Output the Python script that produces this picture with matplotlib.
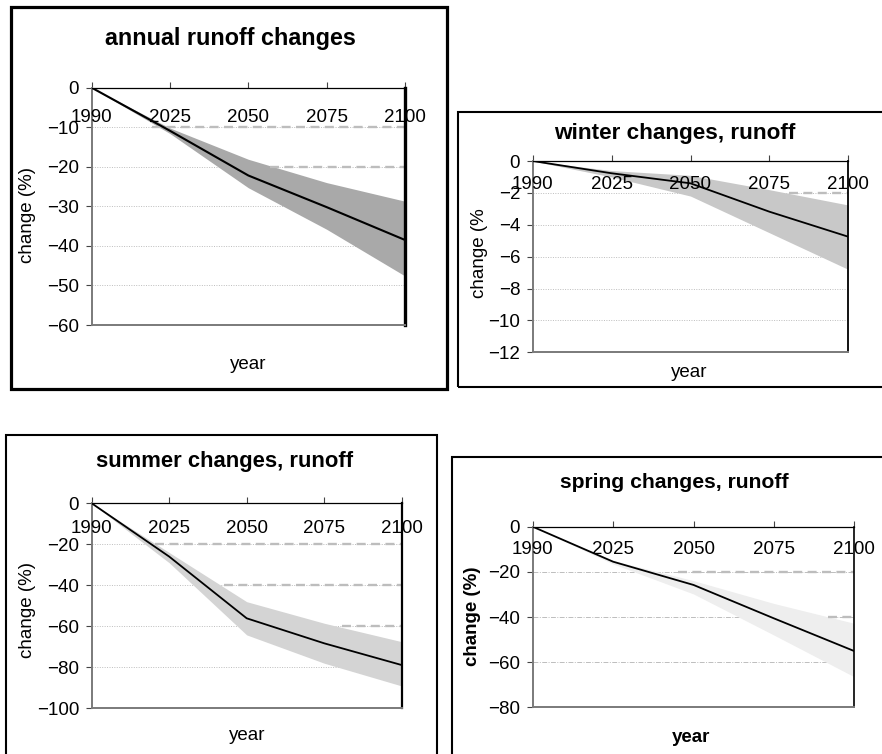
import matplotlib
matplotlib.use("Agg")
import matplotlib.pyplot as plt
from matplotlib.patches import Rectangle
import matplotlib.transforms as mtransforms

plt.rcParams['font.family'] = ['Liberation Sans', 'DejaVu Sans']

W, H = 882, 754

# ---- data -------------------------------------------------------------
years = ["1990", "2025", "2050", "2075", "2100"]

annual_mean = [0, -10.9, -22.2, -30.2, -38.5]
annual_high = [0, -10.2, -18.1, -24.0, -28.7]
annual_low = [0, -11.6, -25.3, -35.8, -47.6]
annual_levels = [-10, -20]
annual_level_from = [0.77, 2.28]

winter_mean = [0, -0.77, -1.4, -3.18, -4.75]
winter_high = [0, -0.6, -0.9, -1.8, -2.76]
winter_low = [0, -1.0, -2.2, -4.5, -6.8]
winter_levels = [-2]
winter_level_from = [3.25]

summer_mean = [0, -26.0, -56.1, -68.3, -78.9]
summer_high = [0, -24.0, -48.0, -58.5, -67.5]
summer_low = [0, -29.0, -64.2, -78.0, -89.1]
summer_levels = [-20, -40, -60]
summer_level_from = [0.82, 1.71, 3.23]

spring_mean = [0, -15.5, -25.8, -40.6, -55.1]
spring_high = [0, -15.0, -23.9, -34.0, -42.8]
spring_low = [0, -16.5, -29.8, -48.0, -66.5]
spring_levels = [-20, -40]
spring_level_from = [1.81, 3.67]

fig = plt.figure(figsize=(W / 100, H / 100), dpi=100)


def fx(x):
    return x / W


def fy(y):
    return 1 - y / H


def frame(x0, y0, x1, y1, lw):
    fig.patches.append(Rectangle((fx(x0), fy(y1)), fx(x1) - fx(x0), fy(y0) - fy(y1),
                                 transform=fig.transFigure, fill=False,
                                 edgecolor='black', linewidth=lw, zorder=0))


def panel(box, ymin, ystep, mean, high, low, levels, level_from, band_color,
          title, title_xy, title_size, ylab, ylab_xy, xlab_xy, bold_labels=False,
          right_lw=1.2, grid_ls=(0, (1, 1.5)), line_lw=1.3):
    x0, y0, x1, y1 = box
    ax = fig.add_axes([fx(x0), fy(y1), fx(x1) - fx(x0), fy(y0) - fy(y1)])
    xs = list(range(len(years)))
    ax.set_xlim(0, len(years) - 1)
    ax.set_ylim(ymin, 0)
    yt = list(range(0, ymin - 1, -ystep))
    ax.set_yticks(yt)
    ax.set_yticklabels([str(v) if v == 0 else "\u2212" + str(-v) for v in yt])
    for v in yt[1:-1]:
        ax.axhline(v, color='#bdbdbd', lw=0.7, ls=grid_ls, zorder=0)
    ax.fill_between(xs, high, low, color=band_color, lw=0, zorder=1)
    ax.plot(xs, mean, color='black', lw=line_lw, zorder=3)
    for lv, start in zip(levels, level_from):
        ax.plot([start, len(years) - 1], [lv, lv], color='#bdbdbd', lw=1.7,
                ls=(0, (3.8, 2.3)), zorder=2)
    # category axis sits at zero (top edge), ticks pointing up
    ax.set_xticks(xs)
    ax.xaxis.set_ticks_position('top')
    ax.tick_params(axis='x', direction='out', length=4, width=0.8, labeltop=False,
                   labelbottom=False, color='#444444')
    ax.tick_params(axis='y', direction='out', length=4, width=0.8, pad=5,
                   labelsize=13.5, color='#444444')
    trans = mtransforms.blended_transform_factory(ax.transData, ax.transAxes)
    for i, lab in enumerate(years):
        ax.text(i, 0.875, lab, transform=trans, ha='center', va='center',
                fontsize=13.5, zorder=4)
    for s in ('left', 'bottom'):
        ax.spines[s].set_color('#7a7a7a')
        ax.spines[s].set_linewidth(1.4)
    ax.spines['top'].set_color('black')
    ax.spines['top'].set_linewidth(0.9)
    ax.spines['right'].set_color('black')
    ax.spines['right'].set_linewidth(right_lw)
    fw = 'bold' if bold_labels else 'normal'
    fig.text(fx(title_xy[0]), fy(title_xy[1]), title, ha='center', va='center',
             fontsize=title_size, fontweight='bold')
    fig.text(fx(ylab_xy[0]), fy(ylab_xy[1]), ylab, ha='center', va='center',
             rotation=90, fontsize=13.5, fontweight=fw)
    fig.text(fx(xlab_xy[0]), fy(xlab_xy[1]), "year", ha='center', va='center',
             fontsize=13.5, fontweight=fw)
    return ax


frame(10.7, 7, 446.7, 389, 2.3)
frame(458, 112, 890, 387, 1.5)
frame(6, 435, 437, 770, 1.5)
frame(452, 457, 890, 770, 1.5)

panel((91.7, 87.7, 405, 325), -60, 10, annual_mean, annual_high, annual_low,
      annual_levels, annual_level_from, '#a9a9a9',
      "annual runoff changes", (230.5, 38), 16.8, "change (%)", (27, 215), (248, 365),
      right_lw=2.4, line_lw=1.5)

panel((532.7, 161, 848.3, 352.3), -12, 2, winter_mean, winter_high, winter_low,
      winter_levels, winter_level_from, '#c8c8c8',
      "winter changes, runoff", (675, 133), 16.2, "change (%", (479, 253), (689, 372),
      right_lw=1.3)

panel((91.7, 503.3, 401.7, 708.3), -100, 20, summer_mean, summer_high, summer_low,
      summer_levels, summer_level_from, '#d4d4d4',
      "summer changes, runoff", (225, 462), 15.8, "change (%)", (27, 610), (247, 735),
      right_lw=1.6)

panel((532.7, 526.7, 854.3, 707.3), -80, 20, spring_mean, spring_high, spring_low,
      spring_levels, spring_level_from, '#eeeeee',
      "spring changes, runoff", (674.5, 482), 15.2, "change (%)", (473, 616), (691, 738),
      bold_labels=True, right_lw=1.2, grid_ls=(0, (5, 1.5, 1, 1.5)))

fig.savefig("out.png", dpi=100)
